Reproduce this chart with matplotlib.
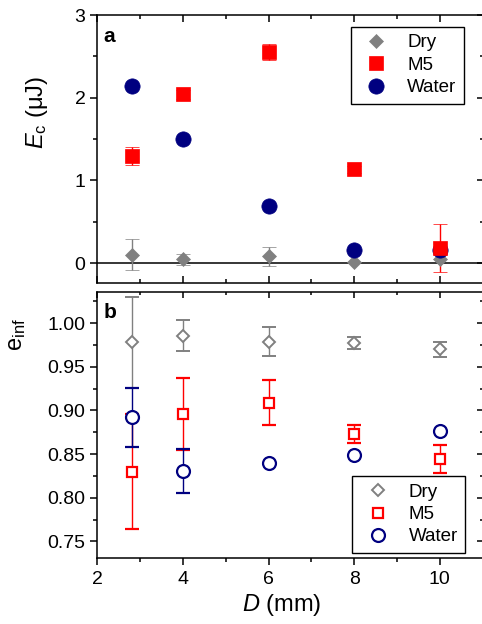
import numpy as np
import matplotlib
matplotlib.use("Agg")
import matplotlib.pyplot as plt
from matplotlib.ticker import MultipleLocator

# SETTINGS
plt.rcParams['font.family'] = ['Liberation Sans', 'DejaVu Sans']
plt.rcParams['mathtext.fontset'] = 'custom'
plt.rcParams['mathtext.rm'] = 'Liberation Sans'
plt.rcParams['mathtext.it'] = 'Liberation Sans:italic'
plt.rcParams['axes.linewidth'] = 1.1

GRAY = '#808080'
RED = '#ff0000'
NAVY = '#000080'
NA = np.nan  # error bar hidden behind the symbol

# Data
D = [2.8, 4, 6, 8, 10]

# panel a : critical energy E_c (uJ)
dry_E = [0.10, 0.045, 0.08, 0.01, 0.05]
dry_E_err = [0.19, 0.07, 0.12, NA, NA]
m5_E = [1.29, 2.04, 2.555, 1.134, 0.186]
m5_E_err = [0.11, 0.05, 0.10, 0.04, 0.29]
water_E = [2.14, 1.50, 0.69, 0.16, 0.155]

# panel b : e_inf
dry_e = [0.978, 0.9856, 0.979, 0.977, 0.970]
dry_e_err = [0.052, 0.018, 0.017, 0.007, 0.009]
m5_e = [0.830, 0.896, 0.909, 0.873, 0.844]
m5_e_err = [0.066, 0.041, 0.026, 0.010, 0.016]
water_e = [0.892, 0.831, 0.840, 0.849, 0.876]
water_e_err = [0.034, 0.025, NA, NA, NA]

W, H = 482, 624
fig = plt.figure(figsize=(W / 100, H / 100), dpi=100)


def box(l, t, r, b):
    # pixel box -> figure fraction
    return [l / W, 1 - b / H, (r - l) / W, (b - t) / H]


ax1 = fig.add_axes(box(97.3, 15, 482.6, 283.3))
ax2 = fig.add_axes(box(97.3, 291.7, 482.6, 558.3))

eb = dict(elinewidth=1.0, capsize=5, capthick=1.0, linestyle='none')


def series(ax, y, err, **kw):
    c = ax.errorbar(D, y, yerr=err, **eb, **kw)
    c[0].set_zorder(3)  # symbol above its bar and caps
    return c


# 1. panel a
ax1.axhline(0, color='black', lw=1.1, zorder=1)
series(ax1, dry_E, dry_E_err, marker='D', ms=6.8, color=GRAY,
       mec=GRAY, mew=0.5, label='Dry')
series(ax1, water_E, None, marker='o', ms=11, color=NAVY,
       mec=NAVY, mew=0.5, label='Water')
series(ax1, m5_E, m5_E_err, marker='s', ms=9.5, color=RED,
       mec=RED, mew=0.5, label='M5')

# 2. panel b
series(ax2, dry_e, dry_e_err, marker='D', ms=6.5, color=GRAY,
       mfc='white', mec=GRAY, mew=1.4, label='Dry')
series(ax2, m5_e, m5_e_err, marker='s', ms=7.8, color=RED,
       mfc='white', mec=RED, mew=1.6, label='M5')
series(ax2, water_e, water_e_err, marker='o', ms=9.3, color=NAVY,
       mfc='white', mec=NAVY, mew=1.6, label='Water')

# 3. axes, ticks
for ax in (ax1, ax2):
    ax.set_xlim(2, 11)
    ax.set_xticks([2, 4, 6, 8, 10])
    ax.xaxis.set_minor_locator(MultipleLocator(1))
    ax.spines['right'].set_visible(False)
    ax.tick_params(axis='y', which='major', direction='out', length=5,
                   width=1.1, labelsize=14, pad=3.5, right=False)
    ax.tick_params(axis='y', which='minor', direction='out', length=3,
                   width=1.1, right=False)

ax1.set_ylim(-0.245, 3)
ax1.set_yticks([0, 1, 2, 3])
ax1.yaxis.set_minor_locator(MultipleLocator(0.5))
ax1.tick_params(axis='x', which='both', direction='in', top=True,
                labelbottom=False, width=1.1)
ax1.tick_params(axis='x', which='major', length=5)
ax1.tick_params(axis='x', which='minor', length=3)

ax2.set_ylim(0.7306, 1.0361)
ax2.set_yticks([0.75, 0.80, 0.85, 0.90, 0.95, 1.00])
ax2.set_yticklabels(['0.75', '0.80', '0.85', '0.90', '0.95', '1.00'])
ax2.yaxis.set_minor_locator(MultipleLocator(0.025))
ax2.tick_params(axis='x', which='major', direction='out', length=5,
                width=1.1, labelsize=14, pad=4.5)
ax2.tick_params(axis='x', which='minor', direction='out', length=3,
                width=1.1)

# inward ticks on the right of both panels and on top of panel b
for ax, major, minor in ((ax1, [0, 1, 2, 3], 0.5),
                         (ax2, [0.75, 0.80, 0.85, 0.90, 0.95, 1.00], 0.025)):
    sec = ax.secondary_yaxis('right')
    sec.set_yticks(major)
    sec.yaxis.set_minor_locator(MultipleLocator(minor))
    sec.tick_params(which='both', direction='in', labelright=False, width=1.1)
    sec.tick_params(which='major', length=4)
    sec.tick_params(which='minor', length=2.5)
    for s in sec.spines.values():
        s.set_visible(False)

top = ax2.secondary_xaxis('top')
top.set_xticks([2, 4, 6, 8, 10])
top.xaxis.set_minor_locator(MultipleLocator(1))
top.tick_params(which='both', direction='in', labeltop=False, width=1.1)
top.tick_params(which='major', length=4)
top.tick_params(which='minor', length=2.5)
for s in top.spines.values():
    s.set_visible(False)

# 4. labels
ax1.text(0.015, 0.898, 'a', transform=ax1.transAxes, fontsize=15,
         fontweight='bold', va='baseline')
ax2.text(0.015, 0.900, 'b', transform=ax2.transAxes, fontsize=15,
         fontweight='bold', va='baseline')

fig.text(37 / W, 1 - 112 / H, r'$E$$_\mathrm{c}$ (μJ)', rotation=90,
         ha='center', va='center', fontsize=17)
fig.text(17 / W, 1 - 335 / H, r'$\mathrm{e}_\mathrm{inf}$', rotation=90,
         ha='center', va='center', fontsize=17)
fig.text(282 / W, 1 - 605 / H, r'$D$ (mm)', ha='center', va='center',
         fontsize=17)

# 5. legends
leg_kw = dict(frameon=True, fancybox=False, framealpha=1, edgecolor='black',
              fontsize=13.5, borderaxespad=0, handletextpad=0.7,
              labelspacing=0.28, handlelength=1.9, borderpad=0.4)
h, l = ax1.get_legend_handles_labels()
order = [l.index('Dry'), l.index('M5'), l.index('Water')]
hs = [h[i][0] for i in order]
leg1 = ax1.legend(hs, [l[i] for i in order], loc='upper right',
                  bbox_to_anchor=(0.952, 0.956), **leg_kw)
leg1.get_frame().set_linewidth(1.0)

h2, l2 = ax2.get_legend_handles_labels()
leg2 = ax2.legend([x[0] for x in h2], l2, loc='lower right',
                  bbox_to_anchor=(0.955, 0.020), **leg_kw)
leg2.get_frame().set_linewidth(1.0)

fig.savefig('out.png', dpi=100)
